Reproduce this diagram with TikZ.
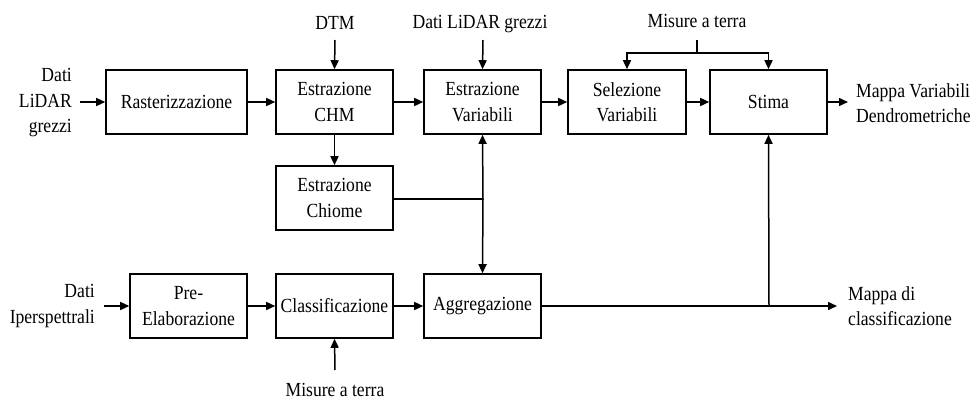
\documentclass[tikz,border=0pt]{standalone}
\usepackage{fontspec}
\setmainfont[FakeStretch=0.88]{Liberation Serif}
\usetikzlibrary{arrows.meta}
\begin{document}
\begin{tikzpicture}[x=1pt,y=-1pt,
  every node/.style={font=\fontsize{20}{25.5}\selectfont},
  box/.style={draw,line width=1.6pt,minimum height=64pt,inner sep=0pt,align=center},
  lbl/.style={inner sep=0pt},
  conn/.style={line width=1.5pt},
  arr/.style={conn,-{Triangle[length=9pt,width=8pt]}}]
\useasboundingbox (0,0) rectangle (978,399);
% boxes
\node[box,minimum width=141pt] (rast) at (176.5,102) {Rasterizzazione};
\node[box,minimum width=117pt] (chm) at (334.5,102) {Estrazione\\CHM};
\node[box,minimum width=117pt] (var) at (482.5,102) {Estrazione\\Variabili};
\node[box,minimum width=118pt] (sel) at (627,102) {Selezione\\Variabili};
\node[box,minimum width=117pt] (stima) at (768.5,102) {Stima};
\node[box,minimum width=117pt] (chiome) at (334.5,198) {Estrazione\\Chiome};
\node[box,minimum width=117pt] (pre) at (188.5,306) {Pre-\\Elaborazione};
\node[box,minimum width=117pt] (class) at (334.5,306) {Classificazione};
\node[box,minimum width=117pt] (agg) at (482.5,306) {Aggregazione};
% labels
\node[lbl,align=right,anchor=east] (inlidar) at (72,103) {Dati\\LiDAR\\grezzi};
\node[lbl,anchor=base] (dtm) at (335,29) {DTM};
\node[lbl,anchor=base] (toplidar) at (480,28) {Dati LiDAR grezzi};
\node[lbl,anchor=base] (mis1) at (697,27) {Misure a terra};
\node[lbl,align=left,anchor=west] (outvar) at (856,103) {Mappa Variabili\\Dendrometriche};
\node[lbl,align=right,anchor=east] (iper) at (95,306) {Dati\\Iperspettrali};
\node[lbl,anchor=base] (mis2) at (335,396) {Misure a terra};
\node[lbl,align=left,anchor=west] (outclass) at (848,306) {Mappa di\\classificazione};
% free-end coordinates
\coordinate (a1) at (80,102);
\coordinate (a2) at (335,40);
\coordinate (a3) at (483,40);
\coordinate (a4) at (697,40);
\coordinate (a5) at (697,53);
\coordinate (a6) at (848,102);
\coordinate (a7) at (104,306);
\coordinate (a8) at (335,370);
\coordinate (a9) at (837,306);
\coordinate (j1) at (483,199);
\coordinate (j2) at (769,306);
% connectors
\draw[arr] (a1) -- (rast.west);
\draw[arr] (rast) -- (chm);
\draw[arr] (chm) -- (var);
\draw[arr] (var) -- (sel);
\draw[arr] (sel) -- (stima);
\draw[arr] (stima.east) -- (a6);
\draw[arr] (a2) -- (chm.north);
\draw[arr] (a3) -- (var.north);
\draw[conn] (a4) -- (a5);
\draw[arr] (a5) -| (sel.north);
\draw[arr] (a5) -| (stima.north);
\draw[arr] (chm) -- (chiome);
\draw[conn] (chiome.east |- j1) -- (j1);
\draw[arr] (j1) -- (var.south);
\draw[arr] (j1) -- (agg.north);
\draw[arr] (a7) -- (pre.west);
\draw[arr] (pre) -- (class);
\draw[arr] (class) -- (agg);
\draw[arr] (a8) -- (class.south);
\draw[arr] (agg.east) -- (a9);
\draw[arr] (j2) -- (stima.south);
\end{tikzpicture}
\end{document}
